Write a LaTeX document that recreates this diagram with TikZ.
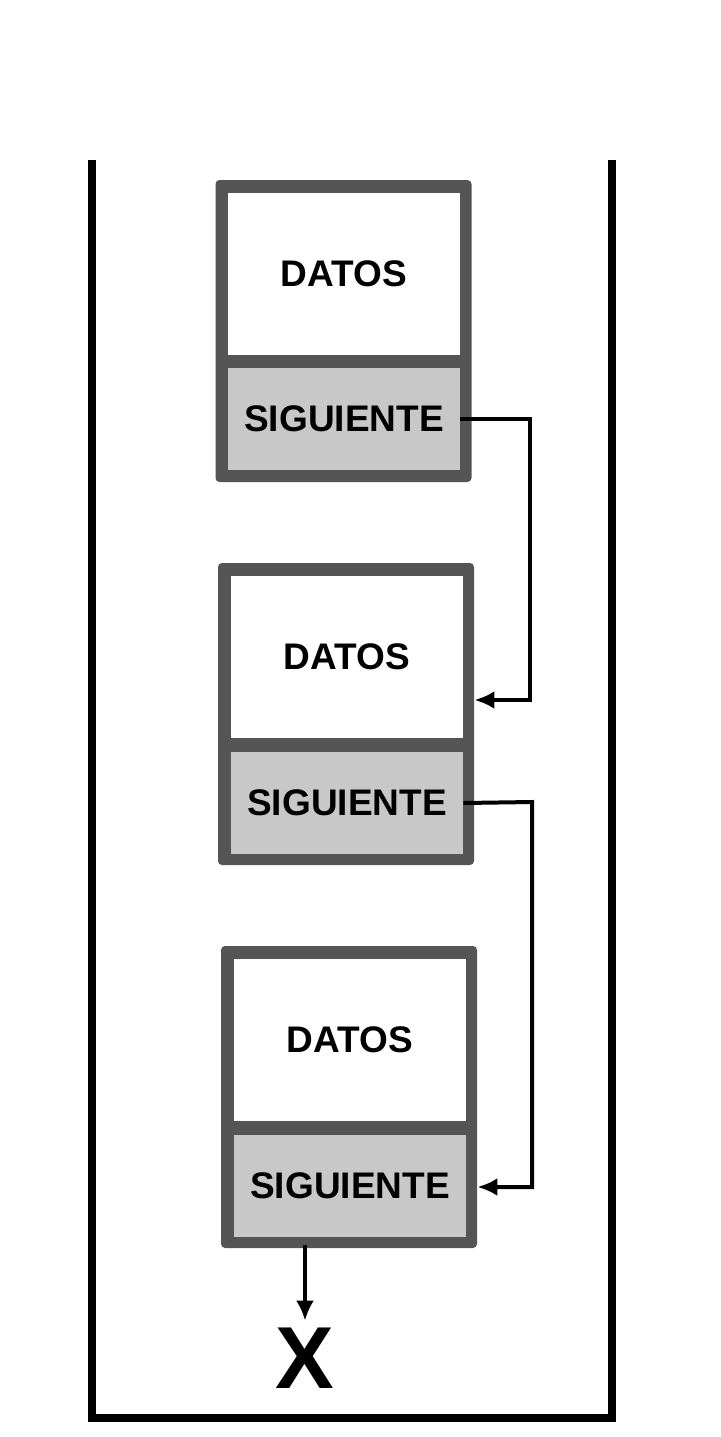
\documentclass[tikz,border=0pt]{standalone}
\usepackage{fontspec}
\setmainfont{Liberation Sans}
\usetikzlibrary{positioning,arrows.meta}
\definecolor{framegray}{HTML}{555555}
\definecolor{siggray}{HTML}{C8C8C8}
\begin{document}
\begin{tikzpicture}[x=0.5pt,y=-0.5pt,
    framebox/.style={rectangle, rounded corners=2pt, fill=framegray, minimum width=128pt, minimum height=151pt},
    datosnode/.style={rectangle, fill=white, minimum width=116pt, minimum height=81pt, font=\bfseries\fontsize{18.5}{22}\selectfont},
    signode/.style={rectangle, fill=siggray, minimum width=116pt, minimum height=51pt, font=\bfseries\fontsize{18.5}{22}\selectfont},
    link/.style={line width=2pt, -{Latex[length=10pt,width=9pt]}},
]
\useasboundingbox (0,0) rectangle (720,1437);
\fill[white] (0,0) rectangle (720,1437);
% container
\draw[line width=4pt] (92,160) -- (92,1418) -- (612,1418) -- (612,160);
% boxes
\node[framebox] (box1) at (343.5,331) {};
\node[datosnode] (datos1) at (344,273.5) {DATOS};
\node[signode]   (sig1)   at (344,419)   {SIGUIENTE};
\node[framebox] (box2) at (346,714) {};
\node[datosnode] (datos2) at (347,657) {DATOS};
\node[signode]   (sig2)   at (347,803)   {SIGUIENTE};
\node[framebox] (box3) at (349,1097) {};
\node[datosnode] (datos3) at (350,1040) {DATOS};
\node[signode]   (sig3)   at (350,1186)  {SIGUIENTE};
\node[font=\bfseries\fontsize{44}{50}\selectfont] (nil) at (305,1358) {X};
% links
\draw[link] (sig1.east) -- (530,419) |- (box2.east |- 0,700);
\draw[link] (sig2.east) -- (532,802) |- (box3.east |- 0,1187);
\draw[link] (305,1245) -- (nil.north);
\end{tikzpicture}
\end{document}
